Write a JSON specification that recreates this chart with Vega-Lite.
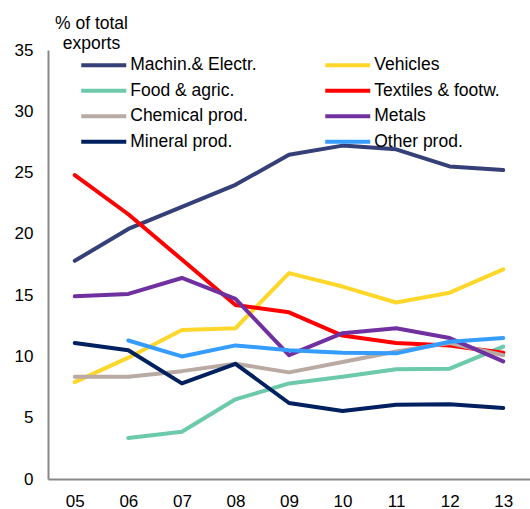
{
  "$schema": "https://vega.github.io/schema/vega-lite/v6.json",
  "width": 482,
  "height": 429,
  "autosize": "none",
  "padding": {"left": 48, "top": 50, "right": 0, "bottom": 30},
  "config": {
    "view": {"stroke": null},
    "font": "Liberation Sans",
    "axis": {"labelFont": "Liberation Sans", "labelFontSize": 17, "labelColor": "#000", "grid": false, "ticks": false, "domainColor": "#888888", "domainWidth": 2}
  },
  "data": {
    "values": [
      {"yr": "05", "s": "Machin.& Electr.", "v": 17.8},
      {"yr": "06", "s": "Machin.& Electr.", "v": 20.4},
      {"yr": "07", "s": "Machin.& Electr.", "v": 22.2},
      {"yr": "08", "s": "Machin.& Electr.", "v": 24.0},
      {"yr": "09", "s": "Machin.& Electr.", "v": 26.45},
      {"yr": "10", "s": "Machin.& Electr.", "v": 27.2},
      {"yr": "11", "s": "Machin.& Electr.", "v": 26.9},
      {"yr": "12", "s": "Machin.& Electr.", "v": 25.5},
      {"yr": "13", "s": "Machin.& Electr.", "v": 25.2},
      {"yr": "05", "s": "Vehicles", "v": 7.9},
      {"yr": "06", "s": "Vehicles", "v": 9.9},
      {"yr": "07", "s": "Vehicles", "v": 12.15},
      {"yr": "08", "s": "Vehicles", "v": 12.3},
      {"yr": "09", "s": "Vehicles", "v": 16.8},
      {"yr": "10", "s": "Vehicles", "v": 15.7},
      {"yr": "11", "s": "Vehicles", "v": 14.4},
      {"yr": "12", "s": "Vehicles", "v": 15.2},
      {"yr": "13", "s": "Vehicles", "v": 17.1},
      {"yr": "06", "s": "Food & agric.", "v": 3.35},
      {"yr": "07", "s": "Food & agric.", "v": 3.85},
      {"yr": "08", "s": "Food & agric.", "v": 6.5},
      {"yr": "09", "s": "Food & agric.", "v": 7.8},
      {"yr": "10", "s": "Food & agric.", "v": 8.35},
      {"yr": "11", "s": "Food & agric.", "v": 8.95},
      {"yr": "12", "s": "Food & agric.", "v": 9.0},
      {"yr": "13", "s": "Food & agric.", "v": 10.8},
      {"yr": "05", "s": "Textiles & footw.", "v": 24.8},
      {"yr": "06", "s": "Textiles & footw.", "v": 21.6},
      {"yr": "07", "s": "Textiles & footw.", "v": 17.9},
      {"yr": "08", "s": "Textiles & footw.", "v": 14.2},
      {"yr": "09", "s": "Textiles & footw.", "v": 13.6},
      {"yr": "10", "s": "Textiles & footw.", "v": 11.7},
      {"yr": "11", "s": "Textiles & footw.", "v": 11.1},
      {"yr": "12", "s": "Textiles & footw.", "v": 10.9},
      {"yr": "13", "s": "Textiles & footw.", "v": 10.3},
      {"yr": "05", "s": "Chemical prod.", "v": 8.35},
      {"yr": "06", "s": "Chemical prod.", "v": 8.35},
      {"yr": "07", "s": "Chemical prod.", "v": 8.8},
      {"yr": "08", "s": "Chemical prod.", "v": 9.4},
      {"yr": "09", "s": "Chemical prod.", "v": 8.7},
      {"yr": "10", "s": "Chemical prod.", "v": 9.55},
      {"yr": "11", "s": "Chemical prod.", "v": 10.4},
      {"yr": "12", "s": "Chemical prod.", "v": 11.1},
      {"yr": "13", "s": "Chemical prod.", "v": 10.1},
      {"yr": "05", "s": "Metals", "v": 14.9},
      {"yr": "06", "s": "Metals", "v": 15.1},
      {"yr": "07", "s": "Metals", "v": 16.4},
      {"yr": "08", "s": "Metals", "v": 14.7},
      {"yr": "09", "s": "Metals", "v": 10.1},
      {"yr": "10", "s": "Metals", "v": 11.9},
      {"yr": "11", "s": "Metals", "v": 12.3},
      {"yr": "12", "s": "Metals", "v": 11.5},
      {"yr": "13", "s": "Metals", "v": 9.6},
      {"yr": "05", "s": "Mineral prod.", "v": 11.1},
      {"yr": "06", "s": "Mineral prod.", "v": 10.5},
      {"yr": "07", "s": "Mineral prod.", "v": 7.8},
      {"yr": "08", "s": "Mineral prod.", "v": 9.4},
      {"yr": "09", "s": "Mineral prod.", "v": 6.2},
      {"yr": "10", "s": "Mineral prod.", "v": 5.55},
      {"yr": "11", "s": "Mineral prod.", "v": 6.05},
      {"yr": "12", "s": "Mineral prod.", "v": 6.1},
      {"yr": "13", "s": "Mineral prod.", "v": 5.8},
      {"yr": "06", "s": "Other prod.", "v": 11.3},
      {"yr": "07", "s": "Other prod.", "v": 10.0},
      {"yr": "08", "s": "Other prod.", "v": 10.9},
      {"yr": "09", "s": "Other prod.", "v": 10.5},
      {"yr": "10", "s": "Other prod.", "v": 10.3},
      {"yr": "11", "s": "Other prod.", "v": 10.25},
      {"yr": "12", "s": "Other prod.", "v": 11.2},
      {"yr": "13", "s": "Other prod.", "v": 11.5}
    ]
  },
  "mark": {"type": "line", "strokeWidth": 4, "strokeJoin": "round", "strokeCap": "round"},
  "encoding": {
    "x": {
      "field": "yr", "type": "ordinal",
      "scale": {"type": "point", "padding": 0.5},
      "axis": {"title": null, "labelAngle": 0, "labelPadding": 14}
    },
    "y": {
      "field": "v", "type": "quantitative",
      "scale": {"domain": [0, 35], "nice": false},
      "axis": {
        "values": [0, 5, 10, 15, 20, 25, 30, 35],
        "labelPadding": 15,
        "title": ["% of total", "exports"],
        "titleAngle": 0,
        "titleAlign": "center",
        "titleBaseline": "top",
        "titleX": 43,
        "titleY": -36,
        "titleFontSize": 17.5,
        "titleFontWeight": "normal",
        "titleColor": "#000",
        "titleLineHeight": 20
      }
    },
    "color": {
      "field": "s", "type": "nominal",
      "scale": {
        "domain": ["Machin.& Electr.", "Food & agric.", "Chemical prod.", "Mineral prod.", "Vehicles", "Textiles & footw.", "Metals", "Other prod."],
        "range": ["#353F78", "#6CC9A9", "#B9AAA3", "#002060", "#FFD72B", "#FF0000", "#7030A0", "#349DFF"]
      },
      "legend": {
        "title": null,
        "orient": "none",
        "legendX": 42.25,
        "legendY": 1.75,
        "columns": 2,
        "columnPadding": 60,
        "rowPadding": 3.5,
        "symbolType": "M-2,0H2",
        "symbolSize": 506.25,
        "symbolStrokeWidth": 4,
        "labelFontSize": 17.5,
        "labelColor": "#000",
        "labelOffset": 13,
        "labelLimit": 300
      }
    }
  }
}
